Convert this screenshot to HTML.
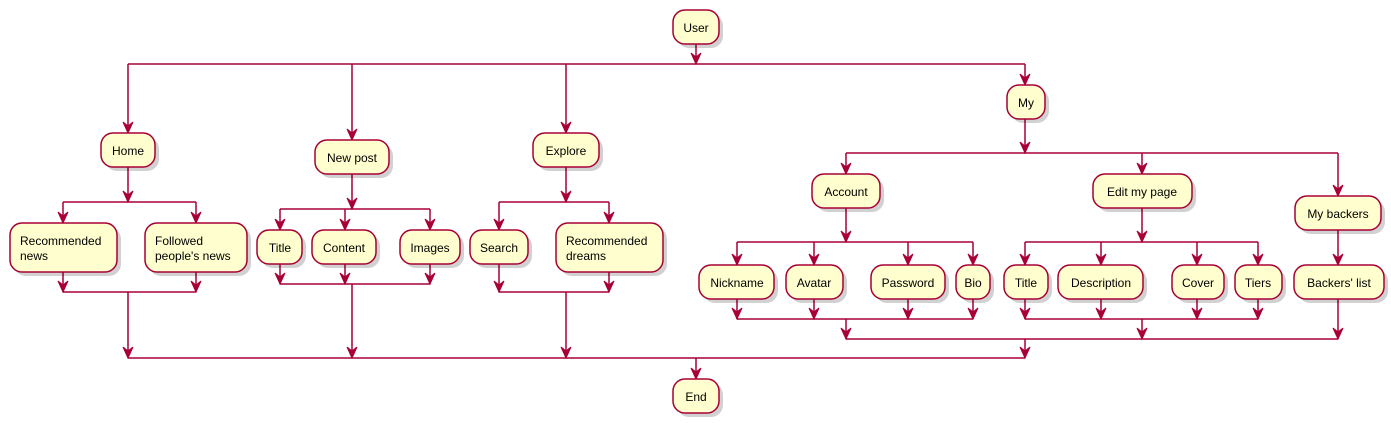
<!DOCTYPE html>
<html><head><meta charset="utf-8"><style>
html,body{margin:0;padding:0;background:#fff;}
svg{display:block;}
text{font-family:"Liberation Sans",sans-serif;font-size:12px;fill:#000;}
.b{fill:#FEFECE;stroke:#A80036;stroke-width:1.5;}
.s{fill:#000;opacity:0.18;}
.l{stroke:#A80036;stroke-width:1.5;fill:none;}
</style></head><body>
<svg width="1391" height="423" viewBox="0 0 1391 423" xmlns="http://www.w3.org/2000/svg">
<g class="l">
<line x1="696" y1="44" x2="696" y2="64"/>
<line x1="128" y1="64" x2="1025" y2="64"/>
<line x1="128" y1="64" x2="128" y2="133"/>
<line x1="352" y1="64" x2="352" y2="140"/>
<line x1="566" y1="64" x2="566" y2="133"/>
<line x1="1025" y1="64" x2="1025" y2="85"/>
<line x1="128" y1="167" x2="128" y2="202"/>
<line x1="63" y1="202" x2="196" y2="202"/>
<line x1="63" y1="202" x2="63" y2="223"/>
<line x1="196" y1="202" x2="196" y2="223"/>
<line x1="63" y1="272" x2="63" y2="292"/>
<line x1="196" y1="272" x2="196" y2="292"/>
<line x1="63" y1="292" x2="196" y2="292"/>
<line x1="128" y1="292" x2="128" y2="358"/>
<line x1="352" y1="174" x2="352" y2="209"/>
<line x1="280" y1="209" x2="430" y2="209"/>
<line x1="280" y1="209" x2="280" y2="230"/>
<line x1="345" y1="209" x2="345" y2="230"/>
<line x1="430" y1="209" x2="430" y2="230"/>
<line x1="280" y1="264" x2="280" y2="284"/>
<line x1="345" y1="264" x2="345" y2="284"/>
<line x1="430" y1="264" x2="430" y2="284"/>
<line x1="280" y1="284" x2="430" y2="284"/>
<line x1="352" y1="284" x2="352" y2="358"/>
<line x1="566" y1="167" x2="566" y2="202"/>
<line x1="499" y1="202" x2="609" y2="202"/>
<line x1="499" y1="202" x2="499" y2="230"/>
<line x1="609" y1="202" x2="609" y2="223"/>
<line x1="499" y1="264" x2="499" y2="292"/>
<line x1="609" y1="272" x2="609" y2="292"/>
<line x1="499" y1="292" x2="609" y2="292"/>
<line x1="566" y1="292" x2="566" y2="358"/>
<line x1="1025" y1="119" x2="1025" y2="153"/>
<line x1="846" y1="153" x2="1338" y2="153"/>
<line x1="846" y1="153" x2="846" y2="174"/>
<line x1="1142" y1="153" x2="1142" y2="174"/>
<line x1="1338" y1="153" x2="1338" y2="196"/>
<line x1="846" y1="208" x2="846" y2="242"/>
<line x1="737" y1="242" x2="973" y2="242"/>
<line x1="737" y1="242" x2="737" y2="265"/>
<line x1="814" y1="242" x2="814" y2="265"/>
<line x1="908" y1="242" x2="908" y2="265"/>
<line x1="973" y1="242" x2="973" y2="265"/>
<line x1="737" y1="299" x2="737" y2="319"/>
<line x1="814" y1="299" x2="814" y2="319"/>
<line x1="908" y1="299" x2="908" y2="319"/>
<line x1="973" y1="299" x2="973" y2="319"/>
<line x1="737" y1="319" x2="973" y2="319"/>
<line x1="1142" y1="208" x2="1142" y2="242"/>
<line x1="1025" y1="242" x2="1258" y2="242"/>
<line x1="1025" y1="242" x2="1025" y2="265"/>
<line x1="1101" y1="242" x2="1101" y2="265"/>
<line x1="1197" y1="242" x2="1197" y2="265"/>
<line x1="1258" y1="242" x2="1258" y2="265"/>
<line x1="1025" y1="299" x2="1025" y2="319"/>
<line x1="1101" y1="299" x2="1101" y2="319"/>
<line x1="1197" y1="299" x2="1197" y2="319"/>
<line x1="1258" y1="299" x2="1258" y2="319"/>
<line x1="1025" y1="319" x2="1258" y2="319"/>
<line x1="1338" y1="230" x2="1338" y2="265"/>
<line x1="846" y1="319" x2="846" y2="339"/>
<line x1="1142" y1="319" x2="1142" y2="339"/>
<line x1="1338" y1="299" x2="1338" y2="339"/>
<line x1="846" y1="339" x2="1338" y2="339"/>
<line x1="1025" y1="339" x2="1025" y2="358"/>
<line x1="128" y1="358" x2="1025" y2="358"/>
<line x1="696" y1="358" x2="696" y2="379"/>
</g>
<g fill="#A80036" stroke="#A80036" stroke-width="1">
<path d="M696,64 l-5,-11 l5,4 l5,-4z"/>
<path d="M128,133 l-5,-11 l5,4 l5,-4z"/>
<path d="M352,140 l-5,-11 l5,4 l5,-4z"/>
<path d="M566,133 l-5,-11 l5,4 l5,-4z"/>
<path d="M1025,85 l-5,-11 l5,4 l5,-4z"/>
<path d="M128,202 l-5,-11 l5,4 l5,-4z"/>
<path d="M63,223 l-5,-11 l5,4 l5,-4z"/>
<path d="M196,223 l-5,-11 l5,4 l5,-4z"/>
<path d="M63,292 l-5,-11 l5,4 l5,-4z"/>
<path d="M196,292 l-5,-11 l5,4 l5,-4z"/>
<path d="M352,209 l-5,-11 l5,4 l5,-4z"/>
<path d="M280,230 l-5,-11 l5,4 l5,-4z"/>
<path d="M345,230 l-5,-11 l5,4 l5,-4z"/>
<path d="M430,230 l-5,-11 l5,4 l5,-4z"/>
<path d="M280,284 l-5,-11 l5,4 l5,-4z"/>
<path d="M345,284 l-5,-11 l5,4 l5,-4z"/>
<path d="M430,284 l-5,-11 l5,4 l5,-4z"/>
<path d="M566,202 l-5,-11 l5,4 l5,-4z"/>
<path d="M499,230 l-5,-11 l5,4 l5,-4z"/>
<path d="M609,223 l-5,-11 l5,4 l5,-4z"/>
<path d="M499,292 l-5,-11 l5,4 l5,-4z"/>
<path d="M609,292 l-5,-11 l5,4 l5,-4z"/>
<path d="M1025,153 l-5,-11 l5,4 l5,-4z"/>
<path d="M846,174 l-5,-11 l5,4 l5,-4z"/>
<path d="M1142,174 l-5,-11 l5,4 l5,-4z"/>
<path d="M1338,196 l-5,-11 l5,4 l5,-4z"/>
<path d="M846,242 l-5,-11 l5,4 l5,-4z"/>
<path d="M737,265 l-5,-11 l5,4 l5,-4z"/>
<path d="M814,265 l-5,-11 l5,4 l5,-4z"/>
<path d="M908,265 l-5,-11 l5,4 l5,-4z"/>
<path d="M973,265 l-5,-11 l5,4 l5,-4z"/>
<path d="M737,319 l-5,-11 l5,4 l5,-4z"/>
<path d="M814,319 l-5,-11 l5,4 l5,-4z"/>
<path d="M908,319 l-5,-11 l5,4 l5,-4z"/>
<path d="M973,319 l-5,-11 l5,4 l5,-4z"/>
<path d="M1142,242 l-5,-11 l5,4 l5,-4z"/>
<path d="M1025,265 l-5,-11 l5,4 l5,-4z"/>
<path d="M1101,265 l-5,-11 l5,4 l5,-4z"/>
<path d="M1197,265 l-5,-11 l5,4 l5,-4z"/>
<path d="M1258,265 l-5,-11 l5,4 l5,-4z"/>
<path d="M1025,319 l-5,-11 l5,4 l5,-4z"/>
<path d="M1101,319 l-5,-11 l5,4 l5,-4z"/>
<path d="M1197,319 l-5,-11 l5,4 l5,-4z"/>
<path d="M1258,319 l-5,-11 l5,4 l5,-4z"/>
<path d="M1338,265 l-5,-11 l5,4 l5,-4z"/>
<path d="M846,339 l-5,-11 l5,4 l5,-4z"/>
<path d="M1142,339 l-5,-11 l5,4 l5,-4z"/>
<path d="M1338,339 l-5,-11 l5,4 l5,-4z"/>
<path d="M1025,358 l-5,-11 l5,4 l5,-4z"/>
<path d="M128,358 l-5,-11 l5,4 l5,-4z"/>
<path d="M352,358 l-5,-11 l5,4 l5,-4z"/>
<path d="M566,358 l-5,-11 l5,4 l5,-4z"/>
<path d="M696,379 l-5,-11 l5,4 l5,-4z"/>
</g>
<g>
<rect class="s" x="677" y="14" width="46" height="34" rx="12"/><rect class="b" x="673" y="10" width="46" height="34" rx="12"/>
<rect class="s" x="105" y="137" width="54" height="34" rx="12"/><rect class="b" x="101" y="133" width="54" height="34" rx="12"/>
<rect class="s" x="319" y="144" width="74" height="34" rx="12"/><rect class="b" x="315" y="140" width="74" height="34" rx="12"/>
<rect class="s" x="537" y="137" width="66" height="34" rx="12"/><rect class="b" x="533" y="133" width="66" height="34" rx="12"/>
<rect class="s" x="1011" y="89" width="38" height="34" rx="12"/><rect class="b" x="1007" y="85" width="38" height="34" rx="12"/>
<rect class="s" x="14" y="227" width="107" height="49" rx="12"/><rect class="b" x="10" y="223" width="107" height="49" rx="12"/>
<rect class="s" x="149" y="227" width="102" height="49" rx="12"/><rect class="b" x="145" y="223" width="102" height="49" rx="12"/>
<rect class="s" x="261" y="234" width="45" height="34" rx="12"/><rect class="b" x="257" y="230" width="45" height="34" rx="12"/>
<rect class="s" x="316" y="234" width="64" height="34" rx="12"/><rect class="b" x="312" y="230" width="64" height="34" rx="12"/>
<rect class="s" x="404" y="234" width="60" height="34" rx="12"/><rect class="b" x="400" y="230" width="60" height="34" rx="12"/>
<rect class="s" x="474" y="234" width="58" height="34" rx="12"/><rect class="b" x="470" y="230" width="58" height="34" rx="12"/>
<rect class="s" x="560" y="227" width="107" height="49" rx="12"/><rect class="b" x="556" y="223" width="107" height="49" rx="12"/>
<rect class="s" x="816" y="178" width="68" height="34" rx="12"/><rect class="b" x="812" y="174" width="68" height="34" rx="12"/>
<rect class="s" x="1097" y="178" width="99" height="34" rx="12"/><rect class="b" x="1093" y="174" width="99" height="34" rx="12"/>
<rect class="s" x="1299" y="200" width="86" height="34" rx="12"/><rect class="b" x="1295" y="196" width="86" height="34" rx="12"/>
<rect class="s" x="703" y="269" width="75" height="34" rx="12"/><rect class="b" x="699" y="265" width="75" height="34" rx="12"/>
<rect class="s" x="790" y="269" width="57" height="34" rx="12"/><rect class="b" x="786" y="265" width="57" height="34" rx="12"/>
<rect class="s" x="875" y="269" width="74" height="34" rx="12"/><rect class="b" x="871" y="265" width="74" height="34" rx="12"/>
<rect class="s" x="960" y="269" width="34" height="34" rx="12"/><rect class="b" x="956" y="265" width="34" height="34" rx="12"/>
<rect class="s" x="1008" y="269" width="44" height="34" rx="12"/><rect class="b" x="1004" y="265" width="44" height="34" rx="12"/>
<rect class="s" x="1062" y="269" width="85" height="34" rx="12"/><rect class="b" x="1058" y="265" width="85" height="34" rx="12"/>
<rect class="s" x="1176" y="269" width="52" height="34" rx="12"/><rect class="b" x="1172" y="265" width="52" height="34" rx="12"/>
<rect class="s" x="1239" y="269" width="47" height="34" rx="12"/><rect class="b" x="1235" y="265" width="47" height="34" rx="12"/>
<rect class="s" x="1298" y="269" width="90" height="34" rx="12"/><rect class="b" x="1294" y="265" width="90" height="34" rx="12"/>
<rect class="s" x="677" y="383" width="46" height="34" rx="12"/><rect class="b" x="673" y="379" width="46" height="34" rx="12"/>
</g>
<g text-anchor="middle">
<text x="696" y="32">User</text>
<text x="128" y="155">Home</text>
<text x="352" y="162">New post</text>
<text x="566" y="155">Explore</text>
<text x="1026" y="107">My</text>
<text x="280" y="252">Title</text>
<text x="344" y="252">Content</text>
<text x="430" y="252">Images</text>
<text x="499" y="252">Search</text>
<text x="846" y="196">Account</text>
<text x="1142" y="196">Edit my page</text>
<text x="1338" y="218">My backers</text>
<text x="737" y="287">Nickname</text>
<text x="814" y="287">Avatar</text>
<text x="908" y="287">Password</text>
<text x="973" y="287">Bio</text>
<text x="1026" y="287">Title</text>
<text x="1101" y="287">Description</text>
<text x="1198" y="287">Cover</text>
<text x="1258" y="287">Tiers</text>
<text x="1339" y="287">Backers' list</text>
<text x="696" y="401">End</text>
</g>
<text x="20" y="245">Recommended</text><text x="20" y="260">news</text>
<text x="155" y="245">Followed</text><text x="155" y="260">people's news</text>
<text x="566" y="245">Recommended</text><text x="566" y="260">dreams</text>
</svg>
</body></html>
